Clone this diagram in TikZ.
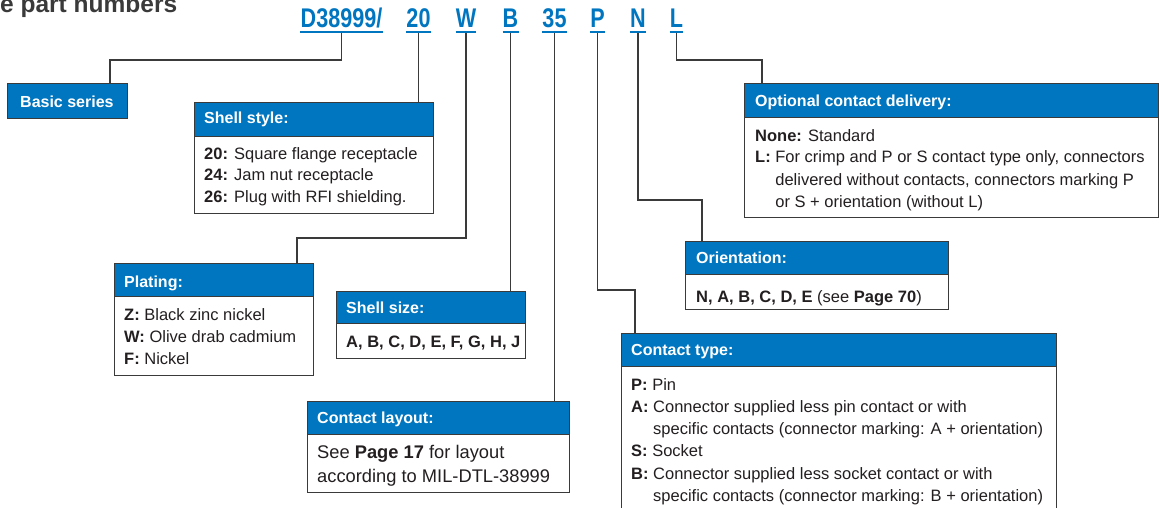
\documentclass[tikz,border=0pt]{standalone}
\usepackage{fontspec}
\setmainfont{Liberation Sans}
\newfontfamily\codefont{Liberation Sans}[FakeStretch=0.8]
\definecolor{eblue}{HTML}{0076C0}
\definecolor{edark}{HTML}{3A3A3A}
\definecolor{etext}{HTML}{231F20}
\tikzset{
 conn/.style={draw=edark, line width=1.4pt},
 bodybox/.style={draw=edark, line width=1.4pt, fill=white, anchor=north west, inner sep=0pt},
 headbox/.style={draw=edark, line width=1.4pt, fill=eblue, anchor=north west, inner sep=0pt},
 headtxt/.style={anchor=base west, inner sep=0pt, text=white, font=\fontsize{16}{19}\selectfont\bfseries},
 bodytxt/.style={anchor=base west, inner sep=0pt, text=etext, align=left, font=\fontsize{16.5}{22}\selectfont},
 codetxt/.style={anchor=base, inner sep=0pt, text=eblue, font=\codefont\fontsize{27}{30}\selectfont\bfseries},
 uline/.style={draw=eblue, line width=2pt},
}
\begin{document}
\begin{tikzpicture}[x=1pt,y=-1pt]
\clip (0,0) rectangle (1159,508);
\fill[white] (0,0) rectangle (1159,508);
% title
\node[anchor=base west, inner sep=0pt, text=edark, font=\fontsize{24.5}{28}\selectfont\bfseries] (title) at (0,12.5) {e part numbers};
% code row
\node[codetxt] (cD) at (341.5,28) {D38999/};
\node[codetxt] (c20) at (418.5,28) {20};
\node[codetxt] (cW) at (466,28) {W};
\node[codetxt] (cB) at (510.5,28) {B};
\node[codetxt] (c35) at (554.5,28) {35};
\node[codetxt] (cP) at (597.5,28) {P};
\node[codetxt] (cN) at (638,28) {N};
\node[codetxt] (cL) at (676.5,28) {L};
\foreach \n in {cD,c20,cW,cB,c35,cP,cN,cL}{
  \draw[uline] ([yshift=-4pt]\n.base west) -- ([yshift=-4pt]\n.base east);
}
% boxes
\node[headbox, minimum width=120pt, minimum height=35pt] (basic) at (7,83) {};
\node[headtxt] (basicT) at (20,108) {Basic series};

\node[bodybox, minimum width=239pt, minimum height=111pt] (shellstyle) at (194,102) {};
\node[headbox, minimum width=239pt, minimum height=34pt] (shellstyleH) at (194,102) {};
\node[headtxt] (shellstyleT) at (204,124) {Shell style:};
\node[bodytxt, font=\fontsize{16.5}{21.7}\selectfont] (shellstyleB) at (204,202.4) {\textbf{20:} Square flange receptacle\\\textbf{24:} Jam nut receptacle\\\textbf{26:} Plug with RFI shielding.};

\node[bodybox, minimum width=199pt, minimum height=112pt] (plating) at (114,263) {};
\node[headbox, minimum width=199pt, minimum height=33pt] (platingH) at (114,263) {};
\node[headtxt] (platingT) at (124,287) {Plating:};
\node[bodytxt] (platingB) at (124,364) {\textbf{Z:} Black zinc nickel\\\textbf{W:} Olive drab cadmium\\\textbf{F:} Nickel};

\node[bodybox, minimum width=189pt, minimum height=67pt] (shellsize) at (336,291) {};
\node[headbox, minimum width=189pt, minimum height=32pt] (shellsizeH) at (336,291) {};
\node[headtxt] (shellsizeT) at (346,313) {Shell size:};
\node[bodytxt] (shellsizeB) at (346,347) {\textbf{A, B, C, D, E, F, G, H, J}};

\node[bodybox, minimum width=262pt, minimum height=91pt] (layout) at (307,401) {};
\node[headbox, minimum width=262pt, minimum height=33pt] (layoutH) at (307,401) {};
\node[headtxt] (layoutT) at (317,423) {Contact layout:};
\node[bodytxt, font=\fontsize{18.3}{24}\selectfont] (layoutB) at (317,482) {See \textbf{Page 17} for layout\\according to MIL-DTL-38999};

\node[bodybox, minimum width=435pt, minimum height=200pt] (ctype) at (621,333) {};
\node[headbox, minimum width=435pt, minimum height=33pt] (ctypeH) at (621,333) {};
\node[headtxt] (ctypeT) at (631,355) {Contact type:};
\node[bodytxt, font=\fontsize{16.5}{22.3}\selectfont] (ctypeB) at (631,501.5) {\textbf{P:} Pin\\\textbf{A:} Connector supplied less pin contact or with\\\hphantom{\textbf{A:} }specific contacts (connector marking: A + orientation)\\\textbf{S:} Socket\\\textbf{B:} Connector supplied less socket contact or with\\\hphantom{\textbf{B:} }specific contacts (connector marking: B + orientation)};

\node[bodybox, minimum width=263pt, minimum height=68pt] (orient) at (685,241) {};
\node[headbox, minimum width=263pt, minimum height=33pt] (orientH) at (685,241) {};
\node[headtxt] (orientT) at (696,263) {Orientation:};
\node[bodytxt] (orientB) at (696,302) {\textbf{N, A, B, C, D, E} (see \textbf{Page 70})};

\node[bodybox, minimum width=414pt, minimum height=134pt] (optional) at (744,83) {};
\node[headbox, minimum width=414pt, minimum height=34pt] (optionalH) at (744,83) {};
\node[headtxt] (optionalT) at (755,107) {Optional contact delivery:};
\node[bodytxt] (optionalB) at (755,207) {\textbf{None:} Standard\\\textbf{L:} For crimp and P or S contact type only, connectors\\\hphantom{\textbf{L:} }delivered without contacts, connectors marking P\\\hphantom{\textbf{L:} }or S + orientation (without L)};

% connectors
\coordinate (kD) at (110,60);
\coordinate (kW) at (297,238);
\coordinate (kP) at (635,290);
\coordinate (kN) at (702,200);
\coordinate (kL) at (762,60);
\draw[conn] ([yshift=-5pt]cD.base) |- (kD) -- (basic.north -| kD);
\draw[conn] ([yshift=-5pt]c20.base) -- (shellstyle.north -| c20.base);
\draw[conn] ([yshift=-5pt]cW.base) |- (kW) -- (plating.north -| kW);
\draw[conn] ([yshift=-5pt]cB.base) -- (shellsize.north -| cB.base);
\draw[conn] ([yshift=-5pt]c35.base) -- (layout.north -| c35.base);
\draw[conn] ([yshift=-5pt]cP.base) |- (kP) -- (ctype.north -| kP);
\draw[conn] ([yshift=-5pt]cN.base) |- (kN) -- (orient.north -| kN);
\draw[conn] ([yshift=-5pt]cL.base) |- (kL) -- (optional.north -| kL);
\end{tikzpicture}
\end{document}
